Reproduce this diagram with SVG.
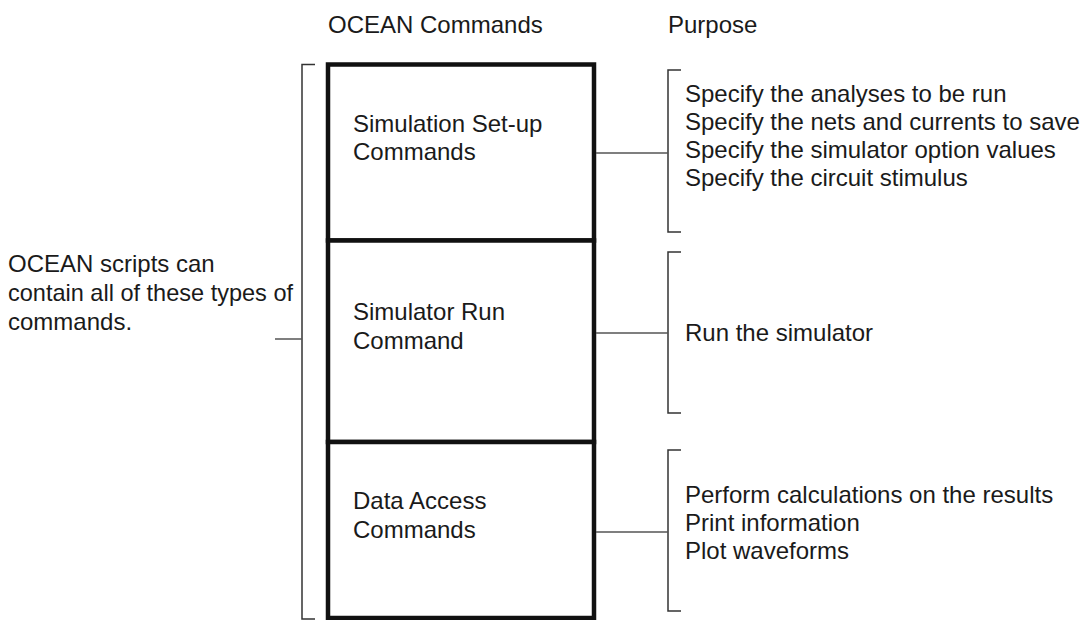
<svg xmlns="http://www.w3.org/2000/svg" width="1092" height="620" viewBox="0 0 1092 620">
<style>
text{font-family:"Liberation Sans",Arial,sans-serif;font-size:24px;fill:#1a1a1a}
.box{fill:#fff;stroke:#111;stroke-width:4.5}
.br{fill:none;stroke:#333;stroke-width:1.5}
.ln{fill:none;stroke:#555;stroke-width:1.5}
</style>
<rect width="1092" height="620" fill="#fff"/>
<text x="328" y="33">OCEAN Commands</text>
<text x="668" y="33">Purpose</text>
<g id="note">
<text x="8" y="272">OCEAN scripts can</text>
<text x="8" y="301" textLength="285" lengthAdjust="spacingAndGlyphs">contain all of these types of</text>
<text x="8" y="330">commands.</text>
</g>
<g id="setup">
<rect class="box" x="328" y="64.5" width="266" height="176"/>
<text x="353" y="132">Simulation Set-up</text>
<text x="353" y="160">Commands</text>
</g>
<g id="run">
<rect class="box" x="328" y="240.5" width="266" height="201.5"/>
<text x="353" y="320">Simulator Run</text>
<text x="353" y="349">Command</text>
</g>
<g id="data">
<rect class="box" x="328" y="442" width="266" height="176"/>
<text x="353" y="509">Data Access</text>
<text x="353" y="538">Commands</text>
</g>
<g id="purpose1">
<text x="685" y="102">Specify the analyses to be run</text>
<text x="685" y="130">Specify the nets and currents to save</text>
<text x="685" y="158">Specify the simulator option values</text>
<text x="685" y="186">Specify the circuit stimulus</text>
</g>
<g id="purpose2">
<text x="685" y="341">Run the simulator</text>
</g>
<g id="purpose3">
<text x="685" y="503">Perform calculations on the results</text>
<text x="685" y="531">Print information</text>
<text x="685" y="559">Plot waveforms</text>
</g>
<g id="connectors">
<path class="br" d="M315 64.5H302V619H315"/>
<path class="ln" d="M275 339H302"/>
<path class="br" d="M681 70H668V232H681"/>
<path class="ln" d="M596 153H668"/>
<path class="br" d="M681 252H668V413H681"/>
<path class="ln" d="M596 333H668"/>
<path class="br" d="M681 450H668V611H681"/>
<path class="ln" d="M596 532H668"/>
</g>
</svg>
